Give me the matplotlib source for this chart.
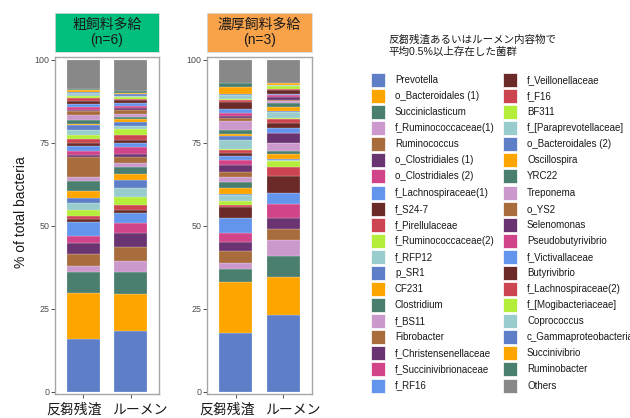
import matplotlib
matplotlib.use("Agg")
import matplotlib.pyplot as plt
import matplotlib.transforms as mtransforms
from matplotlib.patches import Rectangle
import numpy as np

plt.rcParams['font.family'] = ['Liberation Sans', 'Noto Sans CJK JP', 'DejaVu Sans']

# taxa in stacking order (bottom -> top)
taxa = [
    "Prevotella", "o_Bacteroidales (1)", "Succiniclasticum", "f_Ruminococcaceae(1)",
    "Ruminococcus", "o_Clostridiales (1)", "o_Clostridiales (2)", "f_Lachnospiraceae(1)",
    "f_S24-7", "f_Pirellulaceae", "f_Ruminococcaceae(2)", "f_RFP12",
    "p_SR1", "CF231", "Clostridium", "f_BS11",
    "Fibrobacter", "f_Christensenellaceae", "f_Succinivibrionaceae", "f_RF16",
    "f_Veillonellaceae", "f_F16", "BF311", "f_[Paraprevotellaceae]",
    "o_Bacteroidales (2)", "Oscillospira", "YRC22", "Treponema",
    "o_YS2", "Selenomonas", "Pseudobutyrivibrio", "f_Victivallaceae",
    "Butyrivibrio", "f_Lachnospiraceae(2)", "f_[Mogibacteriaceae]", "Coprococcus",
    "c_Gammaproteobacteria", "Succinivibrio", "Ruminobacter", "Others",
]

# relative abundance (%)
roughage_residue = [15.8, 13.9, 6.2, 1.9, 3.6, 3.5, 2.1, 4.1, 1.0, 0.8, 1.7, 2.2,
                    1.6, 2.0, 3.0, 1.4, 5.8, 0.6, 1.4, 1.5, 0.7, 1.3, 1.3, 1.4,
                    1.6, 0.3, 1.1, 1.5, 1.1, 0.4, 1.0, 0.8, 1.0, 1.0, 0.5, 1.0,
                    0.3, 0.4, 0.5, 8.7]
roughage_rumen = [18.4, 11.0, 6.5, 3.6, 4.0, 4.2, 3.0, 3.0, 1.0, 1.6, 2.4, 2.6,
                  2.5, 1.8, 2.0, 1.2, 2.0, 0.7, 2.3, 1.2, 0.8, 1.5, 1.8, 0.9,
                  1.2, 0.9, 0.7, 0.8, 1.2, 0.5, 0.7, 1.0, 0.8, 0.4, 0.6, 0.3,
                  0.7, 0.3, 0.6, 9.3]
concentrate_residue = [17.6, 15.5, 3.8, 1.8, 3.6, 2.9, 2.7, 4.3, 3.3, 0.7, 1.2, 1.9,
                       0.2, 1.7, 2.0, 1.5, 1.5, 2.0, 1.5, 1.3, 1.0, 0.7, 0.3, 2.8,
                       1.2, 0.5, 1.2, 2.8, 1.0, 0.5, 1.0, 1.0, 2.2, 0.5, 0.3, 1.5,
                       0.2, 2.0, 1.3, 7.0]
concentrate_rumen = [23.1, 11.5, 6.3, 4.7, 3.5, 3.3, 4.2, 3.3, 5.2, 2.6, 1.8, 0.3,
                     0.4, 1.4, 0.8, 2.4, 0.2, 2.8, 0.2, 1.3, 1.7, 1.2, 0.2, 1.7,
                     0.5, 1.0, 1.2, 0.6, 0.3, 1.2, 0.5, 0.4, 1.2, 0.3, 0.8, 0.2,
                     0.2, 0.4, 0.1, 7.0]

sample_labels = ["反芻残渣", "ルーメン"]
panel_titles = ["粗飼料多給\n(n=6)", "濃厚飼料多給\n(n=3)"]
panel_colors = ["#00BF7D", "#F8A24A"]
panels = [(roughage_residue, roughage_rumen), (concentrate_residue, concentrate_rumen)]

base_pal = ["#5E7FC8", "#FFA500", "#4A7F6F", "#CC99CC", "#A86C3D", "#6A3472",
            "#D2448A", "#6495ED", "#6B2A28", "#CC4450", "#B4EE3A", "#99CCCC"]
colors = [base_pal[i % 12] for i in range(len(taxa) - 1)] + ["#888888"]

fig = plt.figure(figsize=(6.3, 4.18), dpi=100)
W, H = 630, 418


def px_axes(x0, y0, x1, y1):
    return fig.add_axes([x0 / W, 1 - y1 / H, (x1 - x0) / W, (y1 - y0) / H])


panel_x = [(55, 159), (207, 312)]
for (x0, x1), (left, right), title, scol in zip(panel_x, panels, panel_titles, panel_colors):
    ax = px_axes(x0, 57, x1, 394)
    pos = np.arange(1, 3)
    bottoms = np.zeros(2)
    for k, name in enumerate(taxa):
        vals = np.array([left[k], right[k]])
        ax.bar(pos, vals, bottom=bottoms, width=0.7, color=colors[k],
               edgecolor="white", linewidth=0.15)
        bottoms += vals
    ax.set_xlim(0.4, 2.6)
    ax.set_ylim(-0.7, 100.8)
    ax.set_yticks([0, 25, 50, 75, 100])
    ax.set_xticks(pos)
    ax.set_xticklabels(sample_labels, fontsize=10, color="#1A1A1A")
    ax.tick_params(axis="y", labelsize=6.4, colors="#333333", labelcolor="#4D4D4D",
                   length=3, width=0.6, pad=1)
    ax.tick_params(axis="x", colors="#333333", labelcolor="#1A1A1A",
                   length=3, width=0.6, pad=3)
    # push the two sample names apart a little
    for lab, dx in zip(ax.get_xticklabels(), (-9, 9)):
        lab.set_transform(lab.get_transform() +
                          mtransforms.ScaledTranslation(dx / 100, 0, fig.dpi_scale_trans))
    for sp in ax.spines.values():
        sp.set_color("#A6A6A6")
        sp.set_linewidth(1.0)

    # facet strip
    sx = px_axes(x0, 13, x1, 52)
    sx.set_facecolor(scol)
    sx.set_xticks([])
    sx.set_yticks([])
    for sp in sx.spines.values():
        sp.set_color("#D9D9D9")
        sp.set_linewidth(0.6)
    sx.text(0.5, 0.5, title, ha="center", va="center", fontsize=10,
            color="#1A1A1A", linespacing=1.15, transform=sx.transAxes)

fig.text(21 / W, 1 - 212 / H, "% of total bacteria", rotation=90, ha="center",
         va="center", fontsize=10, color="#1A1A1A")

# legend, two columns of 20 keys, laid out in pixel units
lg = px_axes(360, 0, 630, 418)
lg.set_xlim(360, 630)
lg.set_ylim(418, 0)
lg.axis("off")
lg.text(388, 35, "反芻残渣あるいはルーメン内容物で\n平均0.5%以上存在した菌群",
        ha="left", va="top", fontsize=7.6, linespacing=1.15, color="#1A1A1A")
for i, (name, c) in enumerate(zip(taxa, colors)):
    col, row = divmod(i, 20)
    kx = 371 + col * 132
    ky = 80 + row * 16.08
    lg.add_patch(Rectangle((kx, ky - 7), 14, 14, facecolor=c, edgecolor="white",
                           linewidth=0.5, clip_on=False))
    lg.text(kx + 24, ky, name, ha="left", va="center", fontsize=7,
            color="#1A1A1A", clip_on=False)

fig.savefig("out.png", dpi=100)
